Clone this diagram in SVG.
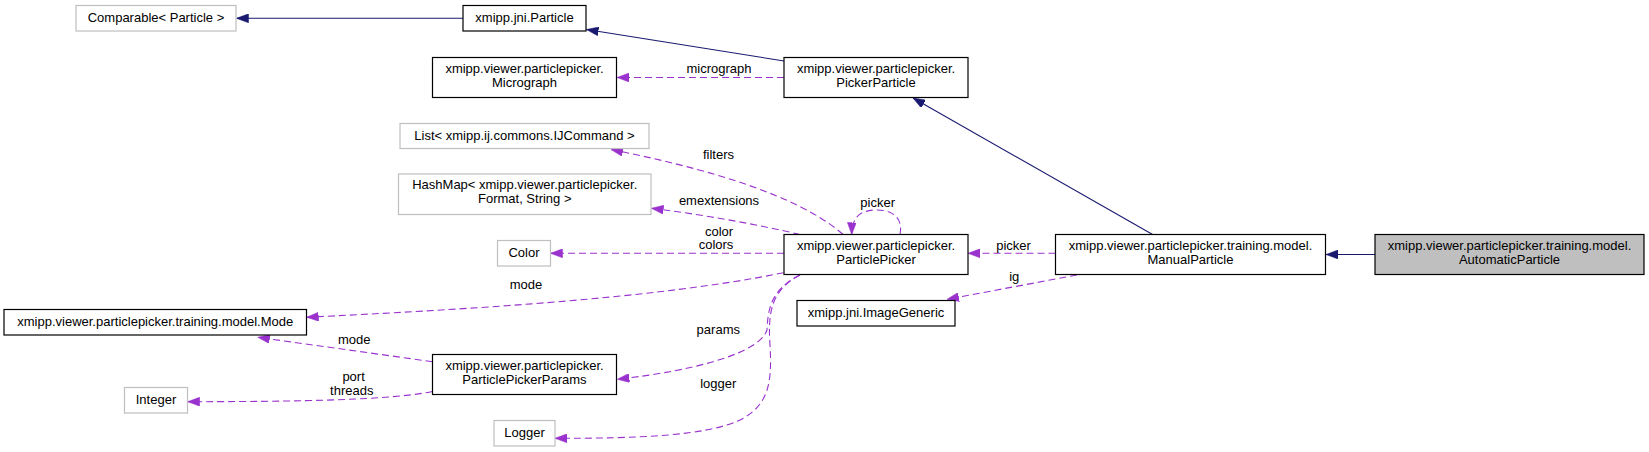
<svg xmlns="http://www.w3.org/2000/svg" width="1649" height="452" viewBox="0 0 1649 452">
<style>
  text { font-family: "Liberation Sans", Arial, sans-serif; font-size: 13px; fill: #000; text-anchor: middle; }
  .n rect { fill: #fff; stroke: #000; stroke-width: 1.2; }
  .g rect { fill: #fff; stroke: #bfbfbf; stroke-width: 1.2; }
  .cur rect { fill: #bfbfbf; stroke: #000; stroke-width: 1.2; }
  .inh { fill: none; stroke: #191970; stroke-width: 1.1; marker-end: url(#ab); }
  .use { fill: none; stroke: #9a32cd; stroke-width: 1.1; stroke-dasharray: 7,4; marker-end: url(#ap); }
</style>
<defs>
  <marker id="ab" markerWidth="12" markerHeight="9" refX="12" refY="4.5" orient="auto" markerUnits="userSpaceOnUse">
    <path d="M0,0 L12,4.5 L0,9 z" fill="#191970" stroke="#191970" stroke-width="0.5"/>
  </marker>
  <marker id="ap" markerWidth="12" markerHeight="9" refX="12" refY="4.5" orient="auto" markerUnits="userSpaceOnUse">
    <path d="M0,0 L12,4.5 L0,9 z" fill="#9a32cd" stroke="#9a32cd" stroke-width="0.5"/>
  </marker>
</defs>
<rect width="1649" height="452" fill="#fff"/>

<g id="connectors">
  <path class="inh" d="M463,18.3 L236.5,18.3"/>
  <path class="inh" d="M784,61 L586.5,29.5"/>
  <path class="inh" d="M1152.6,234.5 L913,98"/>
  <path class="inh" d="M1375,254.5 L1326,254.5"/>

  <path class="use" d="M784,77.5 L617,77.5"/>
  <text x="719" y="72.5">micrograph</text>

  <path class="use" d="M843,234.5 C810,205 740,175 611,149.5"/>
  <text x="718.5" y="158.5">filters</text>

  <path class="use" d="M800,234.5 C760,225 700,214 651.5,208.3"/>
  <text x="719" y="205">emextensions</text>

  <path class="use" d="M900,234.5 C903,220 895,210 877,210 C860,210 852,217 851.7,234.5"/>
  <text x="877.7" y="206.5">picker</text>

  <path class="use" d="M784,253.3 L550.5,253.3"/>
  <text x="719" y="235.5">color</text>
  <text x="716" y="249">colors</text>

  <path class="use" d="M783.5,272.7 C650,300 450,310 306.6,317.3"/>
  <text x="526" y="289">mode</text>

  <path class="use" d="M432.5,361.7 L257.8,337.3"/>
  <text x="354.3" y="343.5">mode</text>

  <path class="use" d="M432.5,391.5 C400,398 340,401.7 187.7,401.7"/>
  <text x="353.6" y="381">port</text>
  <text x="351.8" y="395">threads</text>

  <path class="use" d="M1055.5,253.3 L968,253.3"/>
  <text x="1013.6" y="250">picker</text>

  <path class="use" d="M1077,275 L947,299.3"/>
  <text x="1014.3" y="281">ig</text>

  <path class="use" d="M800,275 C770,290 768,310 767,330 C760,352 700,370 617.3,379.3"/>
  <text x="718.3" y="333.5">params</text>

  <path class="use" d="M800,275 C770,290 768,315 770,345 C772,380 770,405 740,420 C705,436 640,438.3 555,438.3"/>
  <text x="718.3" y="387.5">logger</text>
</g>

<g id="comparable" class="g"><rect x="76" y="5.5" width="160" height="25.5"/><text x="156" y="22.3">Comparable&lt; Particle &gt;</text></g>
<g id="jniParticle" class="n"><rect x="463" y="5.5" width="123" height="25.5"/><text x="524.5" y="22.3">xmipp.jni.Particle</text></g>
<g id="micrograph" class="n"><rect x="432.5" y="57.5" width="184" height="40"/><text x="524.5" y="72.7">xmipp.viewer.particlepicker.</text><text x="524.5" y="86.7">Micrograph</text></g>
<g id="pickerParticle" class="n"><rect x="784" y="57.5" width="184" height="40"/><text x="876" y="72.7">xmipp.viewer.particlepicker.</text><text x="876" y="86.7">PickerParticle</text></g>
<g id="list" class="g"><rect x="400" y="123.5" width="249" height="25"/><text x="524.5" y="140.2">List&lt; xmipp.ij.commons.IJCommand &gt;</text></g>
<g id="hashmap" class="g"><rect x="398.5" y="174" width="252.5" height="40.5"/><text x="524.75" y="189.2">HashMap&lt; xmipp.viewer.particlepicker.</text><text x="524.75" y="203.2">Format, String &gt;</text></g>
<g id="color" class="g"><rect x="497.5" y="240.5" width="53" height="25.5"/><text x="524" y="257.3">Color</text></g>
<g id="particlePicker" class="n"><rect x="784" y="234.5" width="184" height="40"/><text x="876" y="249.7">xmipp.viewer.particlepicker.</text><text x="876" y="263.7">ParticlePicker</text></g>
<g id="manualParticle" class="n"><rect x="1055.5" y="234.5" width="270" height="40"/><text x="1190.5" y="249.7">xmipp.viewer.particlepicker.training.model.</text><text x="1190.5" y="263.7">ManualParticle</text></g>
<g id="automaticParticle" class="cur"><rect x="1375" y="234.5" width="269" height="40"/><text x="1509.5" y="249.7">xmipp.viewer.particlepicker.training.model.</text><text x="1509.5" y="263.7">AutomaticParticle</text></g>
<g id="mode" class="n"><rect x="4" y="309.5" width="302.5" height="25.5"/><text x="155.25" y="326.3">xmipp.viewer.particlepicker.training.model.Mode</text></g>
<g id="imageGeneric" class="n"><rect x="797" y="300.5" width="158" height="25.5"/><text x="876" y="317.3">xmipp.jni.ImageGeneric</text></g>
<g id="params" class="n"><rect x="432.5" y="354.5" width="184" height="40"/><text x="524.5" y="369.7">xmipp.viewer.particlepicker.</text><text x="524.5" y="383.7">ParticlePickerParams</text></g>
<g id="integer" class="g"><rect x="124.5" y="387.5" width="63" height="25.5"/><text x="156" y="404.3">Integer</text></g>
<g id="logger" class="g"><rect x="494" y="420.5" width="61" height="25.5"/><text x="524.5" y="437.3">Logger</text></g>
</svg>
